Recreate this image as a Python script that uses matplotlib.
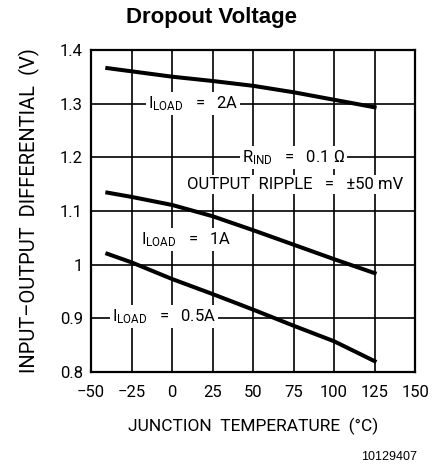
import matplotlib.pyplot as plt
import numpy as np

# temperatures (deg C)
temp = [-40, -25, 0, 25, 50, 75, 100, 125]
v_2a = [1.366, 1.360, 1.350, 1.342, 1.333, 1.321, 1.307, 1.293]
v_1a = [1.134, 1.126, 1.111, 1.090, 1.064, 1.037, 1.010, 0.984]
v_05a = [1.020, 1.004, 0.973, 0.945, 0.916, 0.886, 0.857, 0.820]

xticks = [-50, -25, 0, 25, 50, 75, 100, 125, 150]
yticks = [0.8, 0.9, 1.0, 1.1, 1.2, 1.3, 1.4]
ytick_labels = ['0.8', '0.9', '1', '1.1', '1.2', '1.3', '1.4']

plt.rcParams['font.family'] = ['Roboto', 'DejaVu Sans']
plt.rcParams['mathtext.fontset'] = 'custom'
plt.rcParams['mathtext.rm'] = 'Roboto'

fig = plt.figure(figsize=(4.36, 4.66), dpi=100)
ax = fig.add_axes([0.209, 0.202, 0.743, 0.691])

for v in [v_2a, v_1a, v_05a]:
    ax.plot(temp, v, color='black', lw=2.9, zorder=3)

ax.set_xlim(-50, 150)
ax.set_ylim(0.8, 1.4)
ax.set_xticks(xticks)
ax.set_yticks(yticks)
ax.set_yticklabels(ytick_labels)
ax.set_xticklabels([str(t).replace('-', '\u2212') for t in xticks])
ax.grid(True, color='black', lw=1.2)
ax.tick_params(axis='x', length=0, labelsize=12, pad=9.5)
ax.tick_params(axis='y', length=0, labelsize=12, pad=6)
for s in ax.spines.values():
    s.set_linewidth(1.6)

box = dict(facecolor='white', edgecolor='none', pad=1.5)
fs = 12
ax.text(13, 1.300, r'$\mathregular{I_{LOAD}}$   =   2A', ha='center', va='center',
        fontsize=fs, bbox=box, zorder=4)
ax.text(75, 1.200, r'$\mathregular{R_{IND}}$   =   0.1 $\mathregular{\Omega}$', ha='center', va='center',
        fontsize=fs, bbox=box, zorder=4)
ax.text(76, 1.149, 'OUTPUT  RIPPLE   =   ±50 mV', ha='center', va='center',
        fontsize=fs, bbox=box, zorder=4)
ax.text(9, 1.046, r'$\mathregular{I_{LOAD}}$   =   1A', ha='center', va='center',
        fontsize=fs, bbox=box, zorder=4)
ax.text(-5, 0.903, r'$\mathregular{I_{LOAD}}$   =   0.5A', ha='center', va='center',
        fontsize=fs, bbox=box, zorder=4)

ax.set_xlabel('JUNCTION  TEMPERATURE  (°C)', fontsize=12.5, labelpad=13)
ax.set_ylabel('INPUT–OUTPUT  DIFFERENTIAL  (V)', fontsize=14.5, labelpad=14)
fig.text(0.485, 0.962, 'Dropout Voltage', ha='center', va='center',
         fontsize=16, fontweight='bold', family='Liberation Sans')
fig.text(0.957, 0.019, '10129407', ha='right', va='center',
         fontsize=9, family='Liberation Sans')

fig.savefig('out.png', dpi=100)
